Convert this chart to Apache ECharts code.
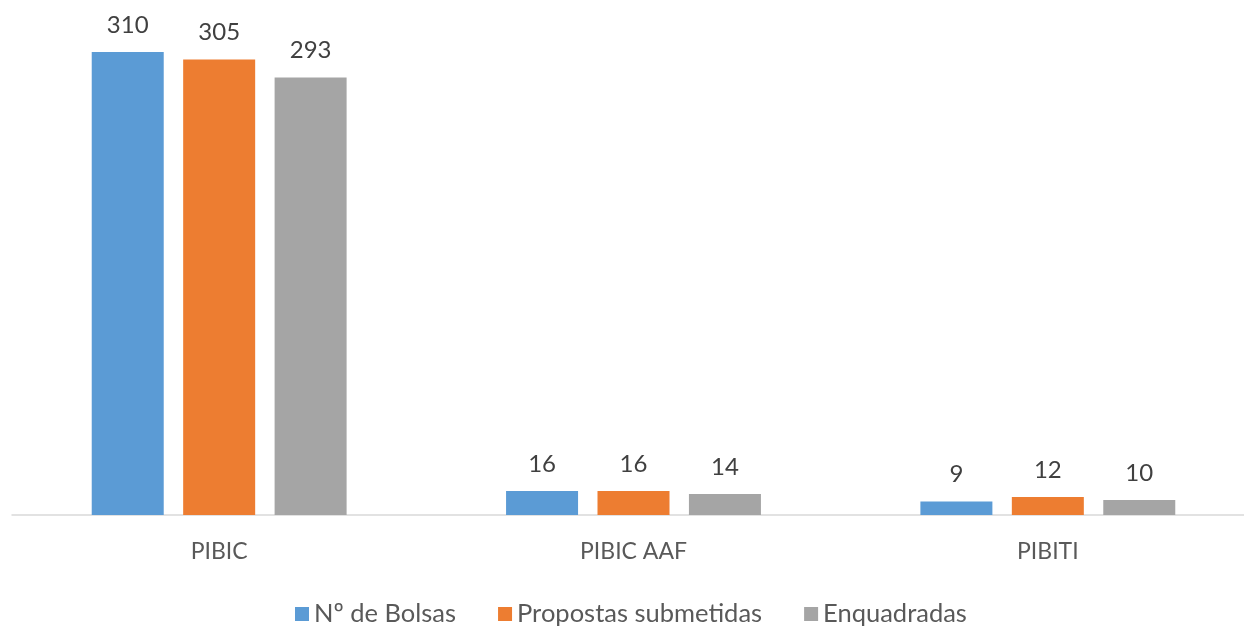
<!DOCTYPE html>
<html>
<head>
    <meta charset="utf-8">
    <title>Bolsas</title>
    <script src="https://cdn.jsdelivr.net/npm/echarts@6/dist/echarts.min.js"></script>
    <style>
        html, body { margin: 0; padding: 0; background: #fff; overflow: hidden; }
    </style>
</head>
<body>
    <!-- um pouco mais largo que a janela: o eixo continua além da borda direita -->
    <div id="main" style="width: 1268px;height:629px;"></div>
    <script type="text/javascript">
        // dados
        var categorias = ['PIBIC', 'PIBIC AAF', 'PIBITI'];
        var nBolsas = [310, 16, 9];
        var propostas = [305, 16, 12];
        var enquadradas = [293, 14, 10];

        var fonte = 'Lato, "Open Sans", sans-serif';
        var myChart = echarts.init(document.getElementById('main'));

        var rotulo = {
            show: true,
            position: 'top',
            distance: 15,
            color: '#404040',
            fontSize: 24,
            fontFamily: fonte
        };

        option = {
            animation: false,
            textStyle: { fontFamily: fonte },
            grid: {
                left: 12,
                top: 52,
                width: 1243,
                height: 463,
                containLabel: false
            },
            legend: {
                top: 596,
                left: 290,
                itemWidth: 14,
                itemHeight: 14,
                itemGap: 42,
                icon: 'rect',
                textStyle: { color: '#595959', fontSize: 25.5, fontFamily: fonte },
                data: ['Nº de Bolsas', 'Propostas submetidas', 'Enquadradas']
            },
            xAxis: {
                type: 'category',
                data: categorias,
                axisLine: { lineStyle: { color: '#d9d9d9', width: 1.5 } },
                axisTick: { show: false },
                axisLabel: { color: '#595959', fontSize: 23, margin: 25, fontFamily: fonte },
                splitLine: { show: false }
            },
            yAxis: {
                type: 'value',
                min: 0,
                max: 310,
                show: false,
                splitLine: { show: false }
            },
            series: [
                {
                    name: 'Nº de Bolsas',
                    type: 'bar',
                    barWidth: 72,
                    barGap: '27%',
                    itemStyle: { color: '#5b9bd5' },
                    label: rotulo,
                    data: nBolsas
                },
                {
                    name: 'Propostas submetidas',
                    type: 'bar',
                    barWidth: 72,
                    barGap: '27%',
                    itemStyle: { color: '#ed7d31' },
                    label: rotulo,
                    data: propostas
                },
                {
                    name: 'Enquadradas',
                    type: 'bar',
                    barWidth: 72,
                    barGap: '27%',
                    itemStyle: { color: '#a5a5a5' },
                    label: rotulo,
                    data: enquadradas
                }
            ]
        };

        myChart.setOption(option);
    </script>
</body>
</html>
